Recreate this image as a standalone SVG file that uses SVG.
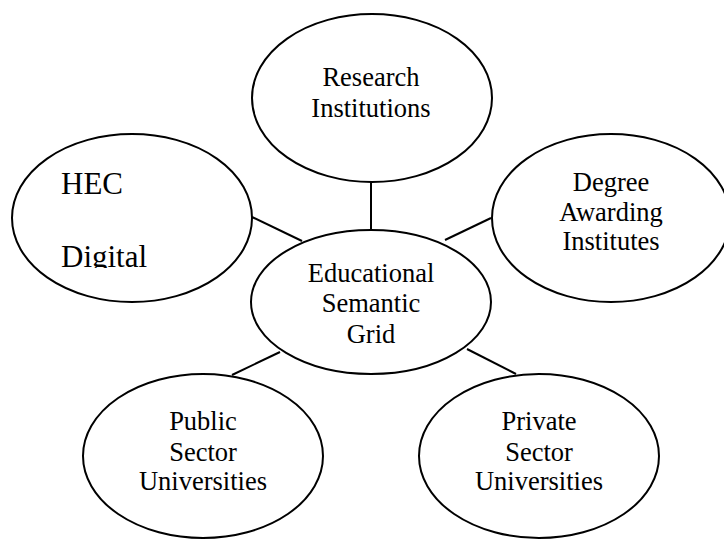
<svg xmlns="http://www.w3.org/2000/svg" width="724" height="539" viewBox="0 0 724 539">
<style>
  .node ellipse { fill: #ffffff; stroke: #000000; stroke-width: 2; }
  .lbl { font-family: "Liberation Serif", "Times New Roman", serif; font-size: 26.5px; fill: #000000; text-anchor: middle; }
  .big { font-family: "Liberation Serif", "Times New Roman", serif; font-size: 31px; fill: #000000; }
  .edges line { stroke: #000000; stroke-width: 2; }
</style>
<defs>
  <clipPath id="hecClip"><rect x="0" y="0" width="300" height="268"/></clipPath>
</defs>
<rect x="0" y="0" width="724" height="539" fill="#ffffff"/>
<g id="connectors" class="edges">
  <line x1="371" y1="182" x2="371" y2="230"/>
  <line x1="252" y1="217" x2="302" y2="241"/>
  <line x1="491" y1="218" x2="445" y2="240"/>
  <line x1="280" y1="352" x2="232" y2="375"/>
  <line x1="467" y1="349" x2="516" y2="374"/>
</g>
<g id="research" class="node">
  <ellipse cx="372" cy="98" rx="120" ry="84"/>
  <text class="lbl" x="371" y="86">Research</text>
  <text class="lbl" x="371" y="117">Institutions</text>
</g>
<g id="hec" class="node">
  <ellipse cx="132" cy="218" rx="120" ry="84"/>
  <g clip-path="url(#hecClip)">
    <text class="big" x="61" y="194">HEC</text>
    <text class="big" x="61" y="267">Digital</text>
  </g>
</g>
<g id="degree" class="node">
  <ellipse cx="611" cy="218" rx="119" ry="84"/>
  <text class="lbl" x="611" y="191">Degree</text>
  <text class="lbl" x="611" y="221">Awarding</text>
  <text class="lbl" x="611" y="250">Institutes</text>
</g>
<g id="grid" class="node">
  <ellipse cx="371" cy="302" rx="120" ry="72"/>
  <text class="lbl" x="371" y="282">Educational</text>
  <text class="lbl" x="371" y="312">Semantic</text>
  <text class="lbl" x="371" y="343">Grid</text>
</g>
<g id="public" class="node">
  <ellipse cx="203" cy="456" rx="120" ry="82"/>
  <text class="lbl" x="203" y="430">Public</text>
  <text class="lbl" x="203" y="461">Sector</text>
  <text class="lbl" x="203" y="490">Universities</text>
</g>
<g id="private" class="node">
  <ellipse cx="539" cy="456" rx="120" ry="82"/>
  <text class="lbl" x="539" y="430">Private</text>
  <text class="lbl" x="539" y="461">Sector</text>
  <text class="lbl" x="539" y="490">Universities</text>
</g>
</svg>
